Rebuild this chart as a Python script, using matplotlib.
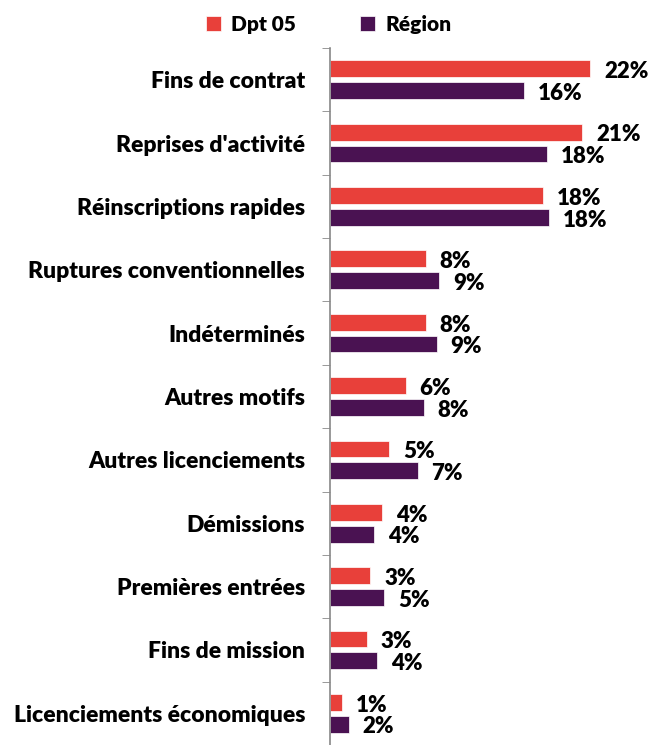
import matplotlib.pyplot as plt
import numpy as np

categories = ['Fins de contrat', "Reprises d'activité", 'Réinscriptions rapides',
              'Ruptures conventionnelles', 'Indéterminés', 'Autres motifs',
              'Autres licenciements', 'Démissions', 'Premières entrées',
              'Fins de mission', 'Licenciements économiques']
dpt05 = [22.0, 21.3, 18.0, 8.1, 8.1, 6.4, 5.0, 4.4, 3.4, 3.1, 1.0]
region = [16.4, 18.3, 18.5, 9.2, 9.0, 7.9, 7.4, 3.7, 4.6, 4.0, 1.6]

red = '#E8403A'
purple = '#4A1252'
font = 'Lato'

fig = plt.figure(figsize=(6.51, 7.45), dpi=100)
ax = fig.add_axes([330 / 651, 0, 296 / 651, 1 - 48 / 745])

y = np.arange(len(categories))
h = 0.266
off = 0.172
b1 = ax.barh(y - off, dpt05, height=h, color=red, edgecolor='white', linewidth=0.5, label='Dpt 05')
b2 = ax.barh(y + off, region, height=h, color=purple, edgecolor='white', linewidth=0.5, label='Région')

# value labels
for yy, v in zip(y, dpt05):
    ax.annotate(f'{round(v):d}%', (v, yy - off), xytext=(10, -2), textcoords='offset points',
                va='center', ha='left', fontsize=16, fontweight='heavy', family=font)
for yy, v in zip(y, region):
    ax.annotate(f'{round(v):d}%', (v, yy + off), xytext=(10, -2), textcoords='offset points',
                va='center', ha='left', fontsize=16, fontweight='heavy', family=font)

ax.set_xlim(0, 25)
ax.set_ylim(10.39, -0.5)
ax.set_yticks(y)
ax.set_yticklabels(categories, fontsize=16.5, fontweight='heavy', family=font)
ax.set_yticks(np.arange(-0.5, len(categories), 1), minor=True)
ax.tick_params(axis='y', which='major', length=0, pad=18)
ax.tick_params(axis='y', which='minor', length=6, color='#888888', direction='out')
ax.set_xticks([])
for s in ['top', 'right', 'bottom']:
    ax.spines[s].set_visible(False)
ax.spines['left'].set_color('#888888')
ax.spines['left'].set_linewidth(1.2)

fig.legend(handles=[b1, b2], loc='upper center', bbox_to_anchor=(0.505, 1.005), ncol=2,
           frameon=False, prop={'family': font, 'weight': 'heavy', 'size': 15},
           handlelength=0.7, handleheight=0.7, columnspacing=3.1, handletextpad=0.5)

fig.savefig('out.png', dpi=100)
